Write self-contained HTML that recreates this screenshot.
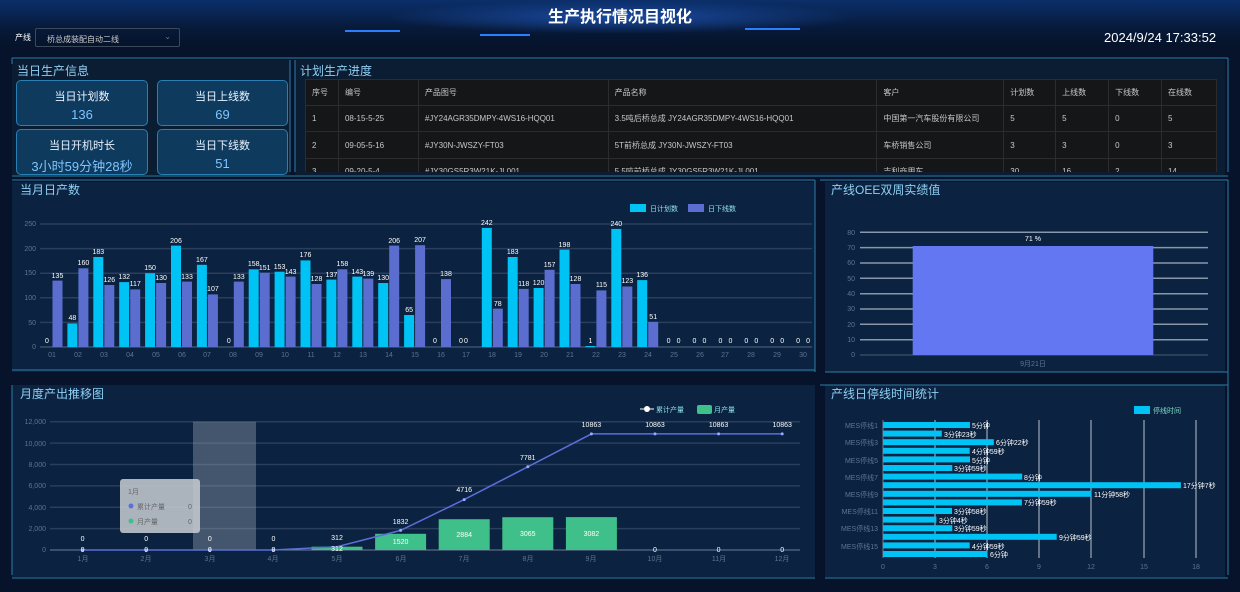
<!DOCTYPE html>
<html><head><meta charset="utf-8">
<style>
*{margin:0;padding:0;box-sizing:border-box}
body{width:1240px;height:592px;overflow:hidden;background:#06132a;font-family:"Liberation Sans","Noto Sans CJK SC",sans-serif;color:#cfe3f5;position:relative}
.abs{position:absolute}
.card{position:absolute;background:#0e3a5e;border:1.5px solid #2a7fb4;border-radius:5px;text-align:center;color:#e8f2ff;font-size:11px}
.card b{display:block;font-weight:normal;color:#7fc4ff;font-size:13px;margin-top:3px}
table{border-collapse:collapse;font-size:8px;color:#c8c8c8}
td{border:1px solid #2c2c2c;padding-left:6px;white-space:nowrap;overflow:hidden}
</style></head><body>
<div class="abs" style="left:0;top:0;width:1240px;height:46px;background:linear-gradient(180deg,#0b2f6a 0%,#071a3a 60%,#06132a 100%)"></div>
<div class="abs" style="left:380px;top:0;width:480px;height:34px;background:radial-gradient(ellipse at center,#1a4aa0 0%,rgba(10,40,100,0) 70%)"></div>
<div class="abs" style="left:345px;top:30px;width:55px;height:2px;background:#2a7fff"></div>
<div class="abs" style="left:480px;top:34px;width:50px;height:2px;background:#2a7fff"></div>
<div class="abs" style="left:745px;top:28px;width:55px;height:2px;background:#2a7fff"></div>
<div class="abs" style="left:0;top:3px;width:1240px;text-align:center;font-size:16px;font-weight:bold;color:#fff">生产执行情况目视化</div>
<div class="abs" style="left:15px;top:32px;font-size:8px;color:#fff">产线</div>
<div class="abs" style="left:35px;top:28px;width:145px;height:19px;border:1px solid #3a4a5a;border-radius:2px;font-size:8px;color:#ccc;padding:5px 0 0 11px">桥总成装配自动二线<span style="position:absolute;right:8px;top:3px;color:#777">⌄</span></div>
<div class="abs" style="left:1104px;top:30px;font-size:13px;color:#fff">2024/9/24 17:33:52</div>

<!-- panel bgs -->
<div class="abs" style="left:12px;top:60px;width:278px;height:115px;background:#0a1d33"></div>
<div class="abs" style="left:295px;top:60px;width:930px;height:115px;background:#0a1d33"></div>
<div class="abs" style="left:12px;top:182px;width:803px;height:190px;background:#0b2240"></div>
<div class="abs" style="left:825px;top:182px;width:400px;height:190px;background:#0b2240"></div>
<div class="abs" style="left:12px;top:385px;width:803px;height:192px;background:#0b2240"></div>
<div class="abs" style="left:825px;top:385px;width:400px;height:192px;background:#0b2240"></div>

<div class="abs" style="left:17px;top:62px;font-size:12px;color:#8fd0f5">当日生产信息</div>
<div class="card" style="left:16px;top:80px;width:132px;height:46px;padding-top:7px">当日计划数<b>136</b></div>
<div class="card" style="left:157px;top:80px;width:131px;height:46px;padding-top:7px">当日上线数<b>69</b></div>
<div class="card" style="left:16px;top:129px;width:132px;height:46px;padding-top:7px">当日开机时长<b>3小时59分钟28秒</b></div>
<div class="card" style="left:157px;top:129px;width:131px;height:46px;padding-top:7px">当日下线数<b>51</b></div>

<div class="abs" style="left:300px;top:62px;font-size:12px;color:#8fd0f5">计划生产进度</div>
<div class="abs" style="left:305px;top:79px;width:912px;height:93px;overflow:hidden;background:#151617">
<table style="width:912px">
<colgroup><col style="width:33px"><col style="width:80px"><col style="width:190px"><col style="width:269px"><col style="width:127px"><col style="width:52px"><col style="width:53px"><col style="width:53px"><col style="width:55px"></colgroup>
<tr style="height:26px"><td>序号</td><td>编号</td><td>产品图号</td><td>产品名称</td><td>客户</td><td>计划数</td><td>上线数</td><td>下线数</td><td>在线数</td></tr>
<tr style="height:26px"><td>1</td><td>08-15-5-25</td><td>#JY24AGR35DMPY-4WS16-HQQ01</td><td>3.5吨后桥总成 JY24AGR35DMPY-4WS16-HQQ01</td><td>中国第一汽车股份有限公司</td><td>5</td><td>5</td><td>0</td><td>5</td></tr>
<tr style="height:27px"><td>2</td><td>09-05-5-16</td><td>#JY30N-JWSZY-FT03</td><td>5T前桥总成 JY30N-JWSZY-FT03</td><td>车桥销售公司</td><td>3</td><td>3</td><td>0</td><td>3</td></tr>
<tr style="height:26px"><td>3</td><td>09-20-5-4</td><td>#JY30GS5R3W21K-JL001</td><td>5.5吨前桥总成 JY30GS5R3W21K-JL001</td><td>吉利商用车</td><td>30</td><td>16</td><td>2</td><td>14</td></tr>
</table></div>

<svg class="abs" style="left:0;top:0" width="1240" height="592" font-family="Liberation Sans, Noto Sans CJK SC, sans-serif">
<g stroke="#2d7ea8" fill="none" stroke-width="1">
<path d="M12 58H1228M12 58V64M290 60V172M295 60V172M12 176H1228M1228 58V172"/>
<path d="M12 180H815M820 180H1228M12 370H815M825 372H1228M12 385V575M815 180V372M1228 180V575M12 578H815M825 578H1228M820 385H1228"/>
</g>
<g font-size="12" fill="#8fd0f5">
<text x="20" y="194">当月日产数</text>
<text x="831" y="194">产线OEE双周实绩值</text>
<text x="20" y="398">月度产出推移图</text>
<text x="831" y="398">产线日停线时间统计</text>
</g>
<!-- daily chart -->
<g stroke="#2a3f5c" stroke-width="1.5">
<line x1="40" y1="224" x2="812" y2="224"/><line x1="40" y1="248.6" x2="812" y2="248.6"/><line x1="40" y1="273.2" x2="812" y2="273.2"/><line x1="40" y1="297.8" x2="812" y2="297.8"/><line x1="40" y1="322.4" x2="812" y2="322.4"/>
</g>
<line x1="40" y1="347" x2="812" y2="347" stroke="#506a88"/>
<g font-size="7" fill="#5f7590" text-anchor="end">
<text x="36" y="226">250</text><text x="36" y="251">200</text><text x="36" y="275">150</text><text x="36" y="300">100</text><text x="36" y="325">50</text><text x="36" y="349">0</text>
</g>
<rect x="630" y="204" width="16" height="8" fill="#00c3f5"/><text x="650" y="211" font-size="7" fill="#8fe0f0">日计划数</text>
<rect x="688" y="204" width="16" height="8" fill="#5b6ed0"/><text x="708" y="211" font-size="7" fill="#8fe0f0">日下线数</text>
<g transform="translate(0,347) scale(1,-1)" fill="#00c3f5">
<rect x="67.4" y="0" width="10" height="23.6"/><rect x="93.3" y="0" width="10" height="90"/><rect x="119.2" y="0" width="10" height="64.9"/><rect x="145.1" y="0" width="10" height="73.8"/><rect x="171" y="0" width="10" height="101.4"/><rect x="196.9" y="0" width="10" height="82.2"/><rect x="248.7" y="0" width="10" height="77.7"/><rect x="274.6" y="0" width="10" height="75.3"/><rect x="300.5" y="0" width="10" height="86.6"/><rect x="326.4" y="0" width="10" height="67.4"/><rect x="352.3" y="0" width="10" height="70.4"/><rect x="378.2" y="0" width="10" height="64"/><rect x="404.1" y="0" width="10" height="32"/><rect x="481.8" y="0" width="10" height="119.1"/><rect x="507.7" y="0" width="10" height="90"/><rect x="533.6" y="0" width="10" height="59"/><rect x="559.5" y="0" width="10" height="97.4"/><rect x="585.4" y="0" width="10" height="1"/><rect x="611.3" y="0" width="10" height="118.1"/><rect x="637.2" y="0" width="10" height="66.9"/>
</g>
<g transform="translate(0,347) scale(1,-1)" fill="#5b6ed0">
<rect x="52.5" y="0" width="10" height="66.4"/><rect x="78.4" y="0" width="10" height="78.7"/><rect x="104.3" y="0" width="10" height="62"/><rect x="130.2" y="0" width="10" height="57.6"/><rect x="156.1" y="0" width="10" height="64"/><rect x="182" y="0" width="10" height="65.4"/><rect x="207.9" y="0" width="10" height="52.6"/><rect x="233.8" y="0" width="10" height="65.4"/><rect x="259.7" y="0" width="10" height="74.3"/><rect x="285.6" y="0" width="10" height="70.4"/><rect x="311.5" y="0" width="10" height="63"/><rect x="337.4" y="0" width="10" height="77.7"/><rect x="363.3" y="0" width="10" height="68.4"/><rect x="389.2" y="0" width="10" height="101.4"/><rect x="415.1" y="0" width="10" height="101.8"/><rect x="441" y="0" width="10" height="67.9"/><rect x="492.8" y="0" width="10" height="38.4"/><rect x="518.7" y="0" width="10" height="58.1"/><rect x="544.6" y="0" width="10" height="77.2"/><rect x="570.5" y="0" width="10" height="63"/><rect x="596.4" y="0" width="10" height="56.6"/><rect x="622.3" y="0" width="10" height="60.5"/><rect x="648.2" y="0" width="10" height="25.1"/>
</g>
<g font-size="7" fill="#fff" text-anchor="middle">
<text x="47" y="343">0</text><text x="72.4" y="320">48</text><text x="98.3" y="254">183</text><text x="124.2" y="279">132</text><text x="150.1" y="270">150</text><text x="176" y="243">206</text><text x="201.9" y="262">167</text><text x="228.8" y="343">0</text><text x="253.7" y="266">158</text><text x="279.6" y="269">153</text><text x="305.5" y="257">176</text><text x="331.4" y="277">137</text><text x="357.3" y="274">143</text><text x="383.2" y="280">130</text><text x="409.1" y="312">65</text><text x="435" y="343">0</text><text x="461" y="343">0</text><text x="486.8" y="225">242</text><text x="512.7" y="254">183</text><text x="538.6" y="285">120</text><text x="564.5" y="247">198</text><text x="590.4" y="343">1</text><text x="616.3" y="226">240</text><text x="642.2" y="277">136</text>
<text x="57.5" y="278">135</text><text x="83.4" y="265">160</text><text x="109.3" y="282">126</text><text x="135.2" y="286">117</text><text x="161.1" y="280">130</text><text x="187" y="279">133</text><text x="212.9" y="291">107</text><text x="238.8" y="279">133</text><text x="264.7" y="270">151</text><text x="290.6" y="274">143</text><text x="316.5" y="281">128</text><text x="342.4" y="266">158</text><text x="368.3" y="276">139</text><text x="394.2" y="243">206</text><text x="420.1" y="242">207</text><text x="446" y="276">138</text><text x="466" y="343">0</text><text x="497.8" y="306">78</text><text x="523.7" y="286">118</text><text x="549.6" y="267">157</text><text x="575.5" y="281">128</text><text x="601.4" y="287">115</text><text x="627.3" y="283">123</text><text x="653.2" y="319">51</text>
<text x="668.6" y="343">0</text><text x="678.6" y="343">0</text><text x="694.5" y="343">0</text><text x="704.5" y="343">0</text><text x="720.4" y="343">0</text><text x="730.4" y="343">0</text><text x="746.3" y="343">0</text><text x="756.3" y="343">0</text><text x="772.2" y="343">0</text><text x="782.2" y="343">0</text><text x="798.1" y="343">0</text><text x="808.1" y="343">0</text>
</g>
<g font-size="7" fill="#5f7590" text-anchor="middle">
<text x="52" y="357">01</text><text x="78" y="357">02</text><text x="104" y="357">03</text><text x="130" y="357">04</text><text x="156" y="357">05</text><text x="182" y="357">06</text><text x="207" y="357">07</text><text x="233" y="357">08</text><text x="259" y="357">09</text><text x="285" y="357">10</text><text x="311" y="357">11</text><text x="337" y="357">12</text><text x="363" y="357">13</text><text x="389" y="357">14</text><text x="415" y="357">15</text><text x="441" y="357">16</text><text x="466" y="357">17</text><text x="492" y="357">18</text><text x="518" y="357">19</text><text x="544" y="357">20</text><text x="570" y="357">21</text><text x="596" y="357">22</text><text x="622" y="357">23</text><text x="648" y="357">24</text><text x="674" y="357">25</text><text x="700" y="357">26</text><text x="725" y="357">27</text><text x="751" y="357">28</text><text x="777" y="357">29</text><text x="803" y="357">30</text>
</g>
<!-- OEE -->
<g stroke="#8a97a8" stroke-width="1.5">
<line x1="860" y1="232.3" x2="1208" y2="232.3"/><line x1="860" y1="247.6" x2="1208" y2="247.6"/><line x1="860" y1="263" x2="1208" y2="263"/><line x1="860" y1="278.3" x2="1208" y2="278.3"/><line x1="860" y1="293.7" x2="1208" y2="293.7"/><line x1="860" y1="309" x2="1208" y2="309"/><line x1="860" y1="324.3" x2="1208" y2="324.3"/><line x1="860" y1="339.7" x2="1208" y2="339.7"/>
</g>
<line x1="860" y1="355" x2="1208" y2="355" stroke="#4a5c70"/>
<g font-size="7" fill="#5f7590" text-anchor="end">
<text x="855" y="235">80</text><text x="855" y="250">70</text><text x="855" y="265">60</text><text x="855" y="281">50</text><text x="855" y="296">40</text><text x="855" y="311">30</text><text x="855" y="327">20</text><text x="855" y="342">10</text><text x="855" y="357">0</text>
</g>
<rect x="912.7" y="246" width="240.6" height="109" fill="#6477f2"/>
<text x="1033" y="241" font-size="7" fill="#fff" text-anchor="middle">71 %</text>
<text x="1033" y="366" font-size="7" fill="#5f7590" text-anchor="middle">9月21日</text>
<!-- monthly -->
<g stroke="#2a3f5c" stroke-width="1.5">
<line x1="50" y1="421.7" x2="800" y2="421.7"/><line x1="50" y1="443.1" x2="800" y2="443.1"/><line x1="50" y1="464.5" x2="800" y2="464.5"/><line x1="50" y1="485.9" x2="800" y2="485.9"/><line x1="50" y1="507.2" x2="800" y2="507.2"/><line x1="50" y1="528.6" x2="800" y2="528.6"/>
</g>
<line x1="50" y1="550" x2="800" y2="550" stroke="#6a7f98"/>
<g font-size="7" fill="#5f7590" text-anchor="end">
<text x="46" y="424">12,000</text><text x="46" y="446">10,000</text><text x="46" y="467">8,000</text><text x="46" y="488">6,000</text><text x="46" y="510">4,000</text><text x="46" y="531">2,000</text><text x="46" y="552">0</text>
</g>
<rect x="193" y="421.7" width="63" height="128.3" fill="#8a96a6" opacity="0.45"/>
<circle cx="647" cy="409" r="3" fill="#fff"/><line x1="640" y1="409" x2="654" y2="409" stroke="#fff"/><text x="656" y="412" font-size="7" fill="#8fe0f0">累计产量</text>
<rect x="697" y="405" width="15" height="9" rx="2" fill="#3fc08a"/><text x="714" y="412" font-size="7" fill="#8fe0f0">月产量</text>
<g fill="#3fc08a">
<rect x="311.5" y="546.7" width="51" height="3.3"/><rect x="375.1" y="533.8" width="51" height="16.2"/><rect x="438.7" y="519.2" width="51" height="30.8"/><rect x="502.3" y="517.2" width="51" height="32.8"/><rect x="565.9" y="517.1" width="51" height="32.9"/>
</g>
<polyline points="82.6,550 146.2,550 209.8,550 273.4,550 337,546.7 400.6,530.4 464.2,499.6 527.8,466.8 591.4,433.9 655,433.9 718.6,433.9 782.2,433.9" fill="none" stroke="#5a6fd8" stroke-width="1.5"/>
<g fill="#9aa8ff"><circle cx="82.6" cy="550" r="1.5"/><circle cx="146.2" cy="550" r="1.5"/><circle cx="209.8" cy="550" r="1.5"/><circle cx="273.4" cy="550" r="1.5"/><circle cx="400.6" cy="530.4" r="1.5"/><circle cx="464.2" cy="499.6" r="1.5"/><circle cx="527.8" cy="466.8" r="1.5"/><circle cx="591.4" cy="433.9" r="1.5"/><circle cx="655" cy="433.9" r="1.5"/><circle cx="718.6" cy="433.9" r="1.5"/><circle cx="782.2" cy="433.9" r="1.5"/></g>
<g font-size="7" fill="#fff" text-anchor="middle">
<text x="82.6" y="541">0</text><text x="146.2" y="541">0</text><text x="209.8" y="541">0</text><text x="273.4" y="541">0</text><text x="82.6" y="552">0</text><text x="146.2" y="552">0</text><text x="209.8" y="552">0</text><text x="273.4" y="552">0</text>
<text x="337" y="540">312</text><text x="337" y="551">312</text><text x="400.6" y="524">1832</text><text x="400.6" y="544">1520</text><text x="464.2" y="492">4716</text><text x="464.2" y="537">2884</text><text x="527.8" y="460">7781</text><text x="527.8" y="536">3065</text><text x="591.4" y="427">10863</text><text x="591.4" y="536">3082</text><text x="655" y="427">10863</text><text x="718.6" y="427">10863</text><text x="782.2" y="427">10863</text><text x="655" y="552">0</text><text x="718.6" y="552">0</text><text x="782.2" y="552">0</text>
</g>
<g font-size="7" fill="#5f7590" text-anchor="middle">
<text x="83" y="561">1月</text><text x="146" y="561">2月</text><text x="210" y="561">3月</text><text x="273" y="561">4月</text><text x="337" y="561">5月</text><text x="401" y="561">6月</text><text x="464" y="561">7月</text><text x="528" y="561">8月</text><text x="591" y="561">9月</text><text x="655" y="561">10月</text><text x="719" y="561">11月</text><text x="782" y="561">12月</text>
</g>
<rect x="120" y="479" width="80" height="54" rx="3" fill="#c8ccd2" opacity="0.85"/>
<g font-size="7" fill="#666"><text x="128" y="494">1月</text>
<circle cx="131" cy="506" r="2.5" fill="#5a6fd8"/><text x="137" y="509">累计产量</text><text x="188" y="509">0</text>
<circle cx="131" cy="521" r="2.5" fill="#3fc08a"/><text x="137" y="524">月产量</text><text x="188" y="524">0</text></g>
<!-- stop time -->
<rect x="1134" y="406" width="16" height="8" fill="#00c3f5"/><text x="1153" y="413" font-size="7" fill="#7fe0c8">停线时间</text>
<g stroke="#b8c4d0" stroke-width="1">
<line x1="935" y1="420" x2="935" y2="558"/><line x1="987" y1="420" x2="987" y2="558"/><line x1="1039" y1="420" x2="1039" y2="558"/><line x1="1091" y1="420" x2="1091" y2="558"/><line x1="1144" y1="420" x2="1144" y2="558"/><line x1="1196" y1="420" x2="1196" y2="558"/>
</g>
<line x1="883" y1="420" x2="883" y2="558" stroke="#6a7f98"/>
<g fill="#00c3f5">
<rect x="883" y="422" width="87" height="6"/><rect x="883" y="430.6" width="58.8" height="6"/><rect x="883" y="439.2" width="110.8" height="6"/><rect x="883" y="447.8" width="86.7" height="6"/><rect x="883" y="456.4" width="87" height="6"/><rect x="883" y="465" width="69.3" height="6"/><rect x="883" y="473.6" width="139.2" height="6"/><rect x="883" y="482.2" width="297.9" height="6"/><rect x="883" y="490.8" width="208.2" height="6"/><rect x="883" y="499.4" width="138.9" height="6"/><rect x="883" y="508" width="69" height="6"/><rect x="883" y="516.6" width="53.4" height="6"/><rect x="883" y="525.2" width="69.3" height="6"/><rect x="883" y="533.8" width="173.7" height="6"/><rect x="883" y="542.4" width="86.7" height="6"/><rect x="883" y="551" width="104.4" height="6"/>
</g>
<g font-size="7" fill="#fff">
<text x="972" y="428">5分钟</text><text x="944" y="437">3分钟23秒</text><text x="996" y="445">6分钟22秒</text><text x="972" y="454">4分钟59秒</text><text x="972" y="463">5分钟</text><text x="954" y="471">3分钟59秒</text><text x="1024" y="480">8分钟</text><text x="1183" y="488">17分钟7秒</text><text x="1094" y="497">11分钟58秒</text><text x="1024" y="505">7分钟59秒</text><text x="954" y="514">3分钟58秒</text><text x="939" y="523">3分钟4秒</text><text x="954" y="531">3分钟59秒</text><text x="1059" y="540">9分钟59秒</text><text x="972" y="549">4分钟59秒</text><text x="990" y="557">6分钟</text>
</g>
<g font-size="7" fill="#5f7590" text-anchor="end">
<text x="878" y="428">MES停线1</text><text x="878" y="445">MES停线3</text><text x="878" y="463">MES停线5</text><text x="878" y="480">MES停线7</text><text x="878" y="497">MES停线9</text><text x="878" y="514">MES停线11</text><text x="878" y="531">MES停线13</text><text x="878" y="549">MES停线15</text>
</g>
<g font-size="7" fill="#5f7590" text-anchor="middle">
<text x="883" y="569">0</text><text x="935" y="569">3</text><text x="987" y="569">6</text><text x="1039" y="569">9</text><text x="1091" y="569">12</text><text x="1144" y="569">15</text><text x="1196" y="569">18</text>
</g>
</svg>
</body></html>
